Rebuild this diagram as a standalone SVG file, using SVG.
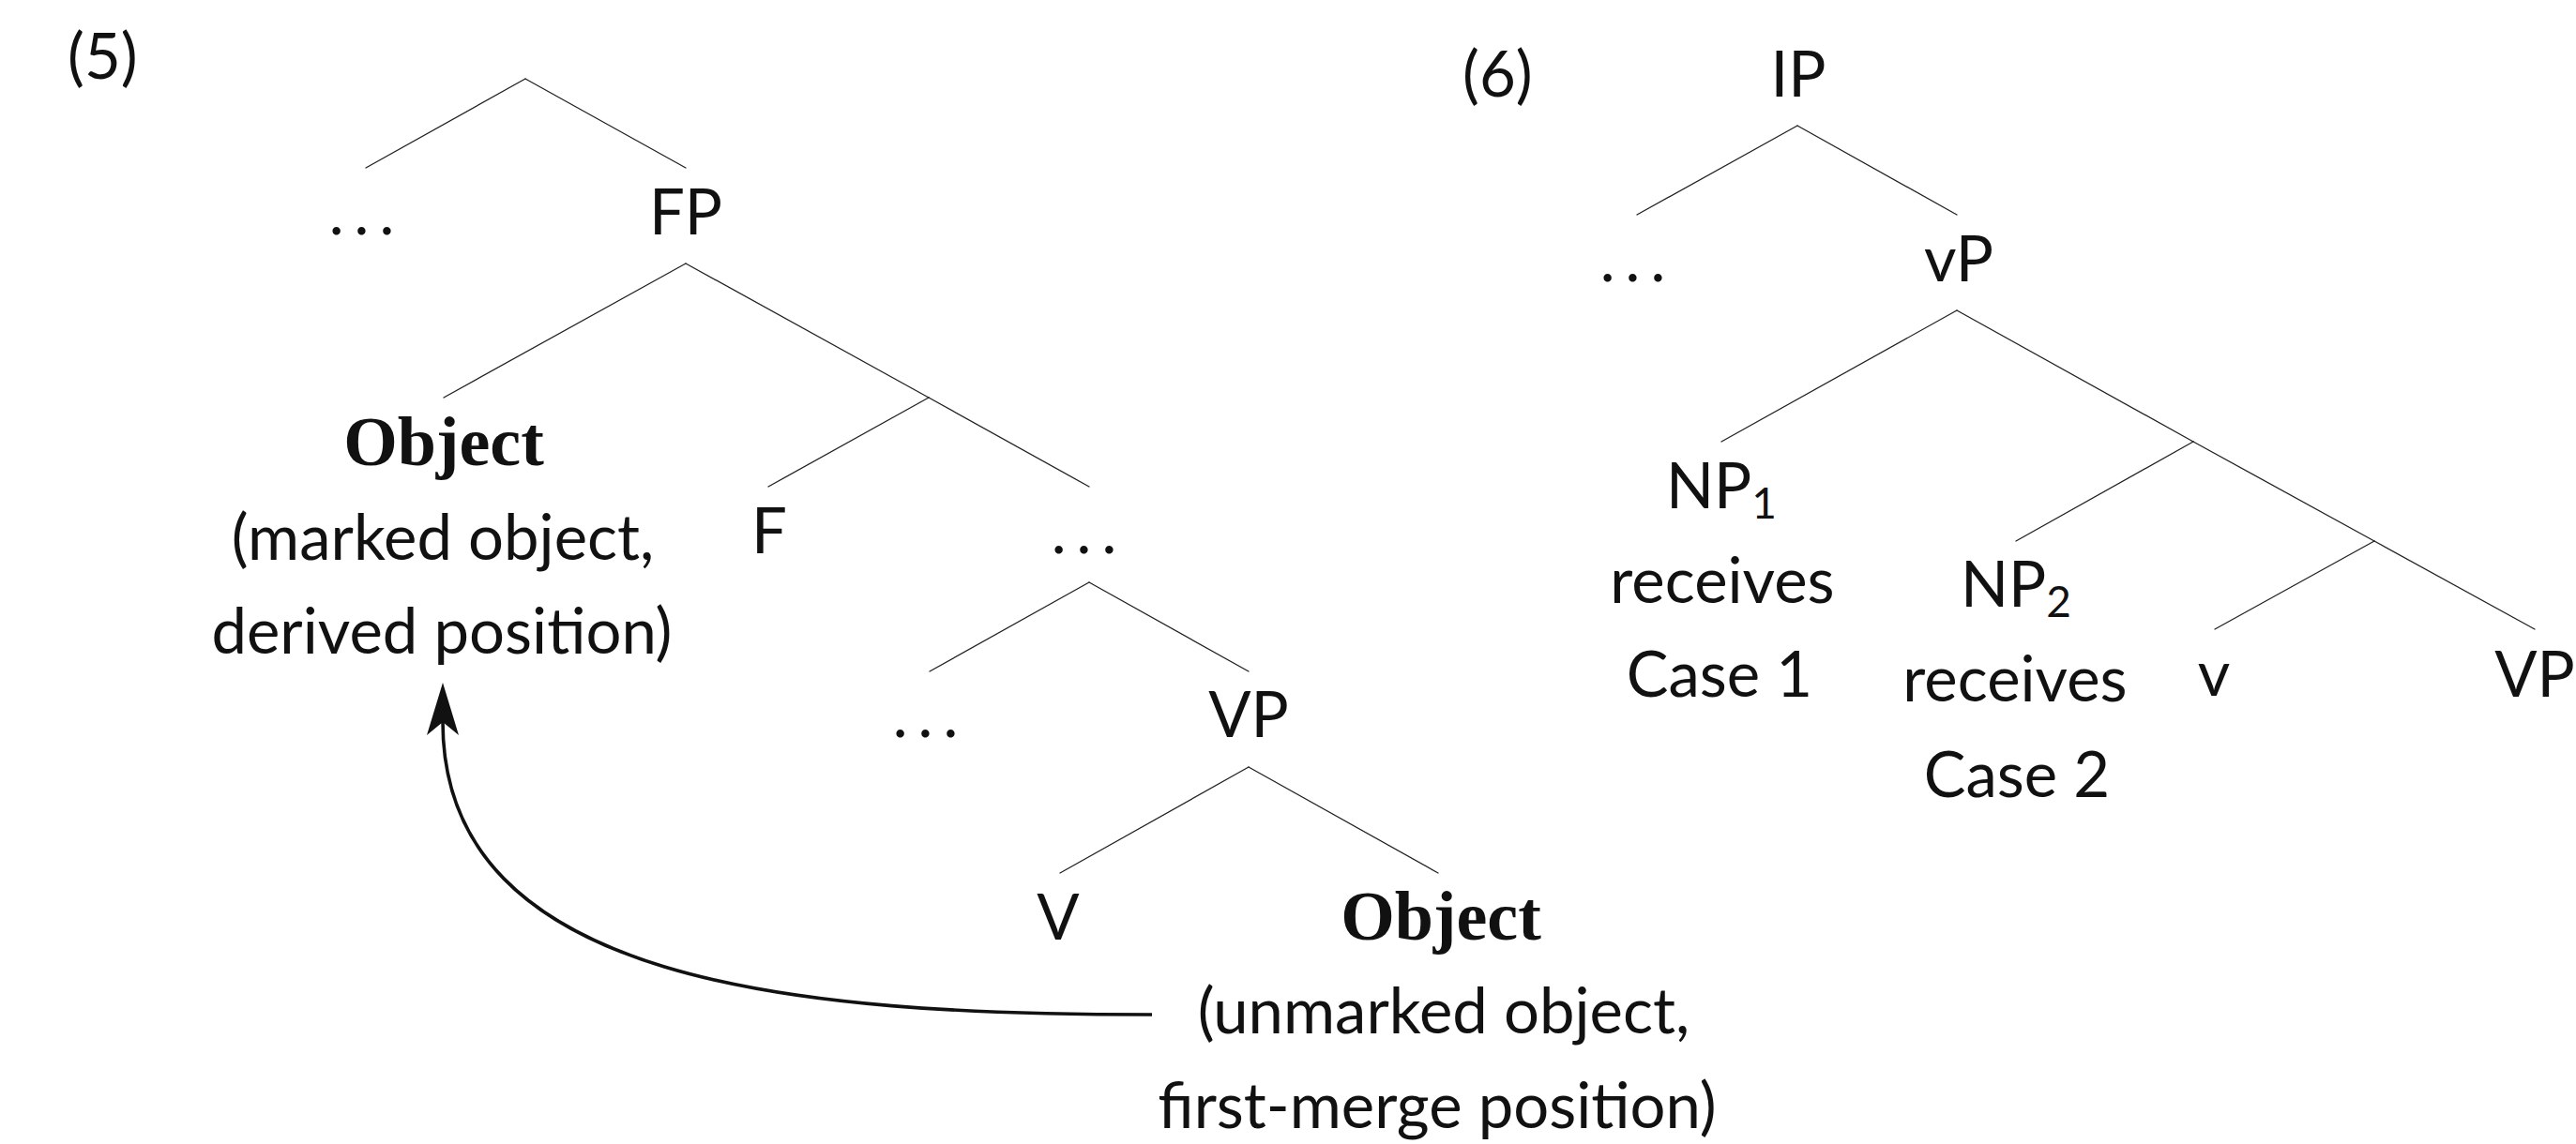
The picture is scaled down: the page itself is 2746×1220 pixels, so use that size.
<svg xmlns="http://www.w3.org/2000/svg" width="2746" height="1220" viewBox="0 0 2746 1220">
  <style>
    .lbl { font-family: Lato, "Open Sans", sans-serif; font-size: 67px; fill: #111; text-anchor: middle; }
    .num { text-anchor: start; }
    .sub { font-size: 46px; }
    .bold { font-family: "Liberation Serif", serif; font-weight: bold; font-size: 74px; fill: #111; text-anchor: middle; }
    .dots { letter-spacing: 11px; }
    .edge { stroke: #222; stroke-width: 1.3; fill: none; stroke-linecap: round; }
    .move { stroke: #111; stroke-width: 3.6; fill: none; }
  </style>
  <defs>
    <marker id="stealth" viewBox="-58 -18 60 36" refX="-42" refY="0" markerWidth="60" markerHeight="36" markerUnits="userSpaceOnUse" orient="auto">
      <path d="M0,0 L-56,-17 L-42,0 L-56,17 Z" fill="#111"/>
    </marker>
  </defs>

  <rect width="2746" height="1220" fill="#fff"/>

  <!-- example numbers -->
  <text id="ex5" class="lbl num" x="72" y="84">(5)</text>
  <text id="ex6" class="lbl num" x="1559" y="103">(6)</text>

  <!-- tree edges -->
  <g id="edges">
    <!-- (5) -->
    <line class="edge" x1="560" y1="84" x2="390" y2="179"/>
    <line class="edge" x1="560" y1="84" x2="731" y2="179"/>
    <line class="edge" x1="731" y1="281" x2="473" y2="424"/>
    <line class="edge" x1="731" y1="281" x2="990" y2="424"/>
    <line class="edge" x1="990" y1="424" x2="1161" y2="519"/>
    <line class="edge" x1="990" y1="424" x2="819" y2="519"/>
    <line class="edge" x1="1161" y1="621" x2="991" y2="716"/>
    <line class="edge" x1="1161" y1="621" x2="1331" y2="716"/>
    <line class="edge" x1="1331" y1="818" x2="1130" y2="931"/>
    <line class="edge" x1="1331" y1="818" x2="1533" y2="931"/>
    <!-- (6) -->
    <line class="edge" x1="1916" y1="134" x2="1745" y2="229"/>
    <line class="edge" x1="1916" y1="134" x2="2086" y2="229"/>
    <line class="edge" x1="2086" y1="331" x2="1835" y2="471"/>
    <line class="edge" x1="2086" y1="331" x2="2338" y2="471"/>
    <line class="edge" x1="2338" y1="471" x2="2149" y2="577"/>
    <line class="edge" x1="2338" y1="471" x2="2531" y2="577"/>
    <line class="edge" x1="2531" y1="577" x2="2361" y2="671"/>
    <line class="edge" x1="2531" y1="577" x2="2702" y2="671"/>
    <!-- movement arrow -->
    <path class="move" d="M1228,1082 C850,1082 472,1050 472,770" marker-end="url(#stealth)"/>
  </g>

  <!-- nodes of (5) -->
  <g id="n5-dots1"><text class="lbl dots" x="391" y="250">...</text></g>
  <g id="n5-FP"><text class="lbl" x="731" y="250">FP</text></g>
  <g id="n5-obj-derived">
    <text class="bold" x="473" y="496">Object</text>
    <text class="lbl" x="472" y="597">(marked object,</text>
    <text class="lbl" x="471" y="697">derived position)</text>
  </g>
  <g id="n5-F"><text class="lbl" x="820" y="590">F</text></g>
  <g id="n5-dots2"><text class="lbl dots" x="1161" y="590">...</text></g>
  <g id="n5-dots3"><text class="lbl dots" x="992" y="786">...</text></g>
  <g id="n5-VP"><text class="lbl" x="1331" y="786">VP</text></g>
  <g id="n5-V"><text class="lbl" x="1128" y="1002">V</text></g>
  <g id="n5-obj-first">
    <text class="bold" x="1536" y="1002">Object</text>
    <text class="lbl" x="1539" y="1102">(unmarked object,</text>
    <text class="lbl" x="1532" y="1203">first-merge position)</text>
  </g>

  <!-- nodes of (6) -->
  <g id="n6-IP"><text class="lbl" x="1917" y="103">IP</text></g>
  <g id="n6-dots"><text class="lbl dots" x="1746" y="300">...</text></g>
  <g id="n6-vP"><text class="lbl" x="2088" y="300">vP</text></g>
  <g id="n6-NP1">
    <text class="lbl" x="1835" y="542">NP<tspan class="sub" dy="11">1</tspan></text>
    <text class="lbl" x="1836" y="643">receives</text>
    <text class="lbl" x="1833" y="743">Case 1</text>
  </g>
  <g id="n6-NP2">
    <text class="lbl" x="2149" y="647">NP<tspan class="sub" dy="11">2</tspan></text>
    <text class="lbl" x="2148" y="748">receives</text>
    <text class="lbl" x="2150" y="850">Case 2</text>
  </g>
  <g id="n6-v"><text class="lbl" x="2360" y="742">v</text></g>
  <g id="n6-VP"><text class="lbl" x="2702" y="743">VP</text></g>
</svg>
